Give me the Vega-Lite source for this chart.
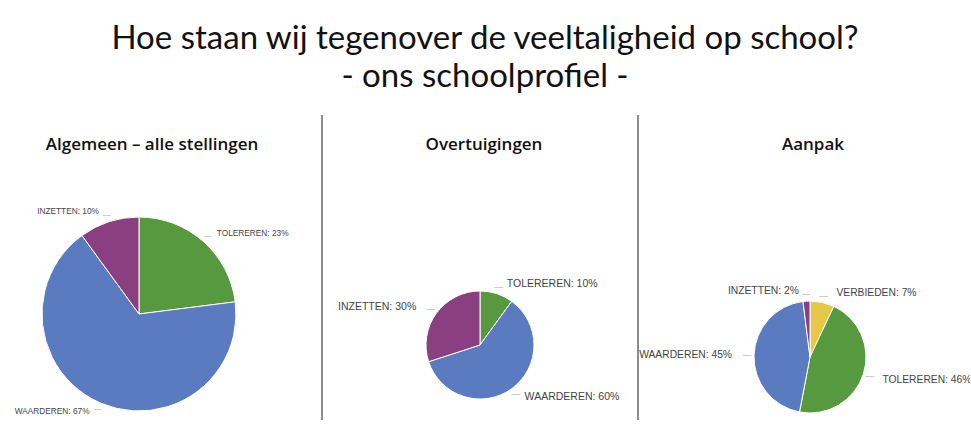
{
  "$schema": "https://vega.github.io/schema/vega-lite/v6.json",
  "background": "#ffffff",
  "padding": {"left": 10, "top": 23, "right": 0, "bottom": 0},
  "title": {
    "text": "Hoe staan wij tegenover de veeltaligheid op school?",
    "subtitle": "- ons schoolprofiel -",
    "font": "Lato", "fontSize": 33, "fontWeight": "normal", "color": "#111111",
    "subtitleFont": "Lato", "subtitleFontSize": 33, "subtitleColor": "#111111",
    "subtitlePadding": 5, "anchor": "middle", "offset": 20, "dx": -5
  },
  "spacing": 0,
  "config": {"view": {"stroke": null}},
  "hconcat": [
    {"spacing": 32, "vconcat": [
      {"width": 258, "height": 60,
       "data": {"values": [{"titel": "Algemeen – alle stellingen"}]},
       "mark": {"type": "text", "font": "Open Sans", "fontSize": 17, "fontWeight": 600, "color": "#111111", "baseline": "middle", "align": "center", "dx": 13},
       "encoding": {"text": {"field": "titel", "type": "nominal"}}},
      {
      "width": 258, "height": 200,
      "data": {"values": [
        {"category": "TOLEREREN", "value": 23, "nr": 1, "label": "TOLEREREN: 23%"},
        {"category": "WAARDEREN", "value": 67, "nr": 2, "label": "WAARDEREN: 67%"},
        {"category": "INZETTEN", "value": 10, "nr": 3, "label": "INZETTEN: 10%"}
      ]},
      "encoding": {
        "theta": {"field": "value", "type": "quantitative", "stack": true},
        "order": {"field": "nr", "type": "quantitative"}
      },
      "layer": [
        {"mark": {"type": "arc", "outerRadius": 97, "stroke": "#ffffff", "strokeWidth": 1},
         "encoding": {"color": {"field": "category", "type": "nominal", "legend": null,
           "scale": {"domain": ["TOLEREREN", "WAARDEREN", "INZETTEN", "VERBIEDEN"], "range": ["#56993f", "#5a7bbf", "#8a3f80", "#e6c847"]}}}},
        {"mark": {"type": "text", "radius": 104, "text": "—", "fontSize": 8, "color": "#aaaaaa", "baseline": "middle"},
         "encoding": {"detail": {"field": "category"}}},
        {"mark": {"type": "text", "radius": 107, "dx": 7, "align": "left", "baseline": "middle", "font": "Liberation Sans", "fontSize": 8.3, "color": "#444444"},
         "encoding": {"detail": {"field": "category"},
           "text": {"condition": {"test": "datum.category === 'TOLEREREN'", "field": "label", "type": "nominal"}, "value": ""}}},
        {"mark": {"type": "text", "radius": 107, "dx": -7, "align": "right", "baseline": "middle", "font": "Liberation Sans", "fontSize": 8.3, "color": "#444444"},
         "encoding": {"detail": {"field": "category"},
           "text": {"condition": {"test": "datum.category !== 'TOLEREREN'", "field": "label", "type": "nominal"}, "value": ""}}}
      ]
    }]},
    {
      "width": 33, "height": 305,
      "data": {"values": [{}]},
      "mark": {"type": "rule", "color": "#8c8c8c", "strokeWidth": 2},
      "encoding": {"x": {"datum": 1, "type": "quantitative", "scale": {"domain": [0, 1]}, "axis": null}}
    },
    {"spacing": 104, "vconcat": [
      {"width": 314, "height": 60,
       "data": {"values": [{"titel": "Overtuigingen"}]},
       "mark": {"type": "text", "font": "Open Sans", "fontSize": 17, "fontWeight": 600, "color": "#111111", "baseline": "middle", "align": "center", "dx": 4},
       "encoding": {"text": {"field": "titel", "type": "nominal"}}},
      {
      "width": 314, "height": 114,
      "data": {"values": [
        {"category": "TOLEREREN", "value": 10, "nr": 1, "label": "TOLEREREN: 10%"},
        {"category": "WAARDEREN", "value": 60, "nr": 2, "label": "WAARDEREN: 60%"},
        {"category": "INZETTEN", "value": 30, "nr": 3, "label": "INZETTEN: 30%"}
      ]},
      "encoding": {
        "theta": {"field": "value", "type": "quantitative", "stack": true},
        "order": {"field": "nr", "type": "quantitative"}
      },
      "layer": [
        {"mark": {"type": "arc", "outerRadius": 54, "stroke": "#ffffff", "strokeWidth": 1},
         "encoding": {"color": {"field": "category", "type": "nominal", "legend": null,
           "scale": {"domain": ["TOLEREREN", "WAARDEREN", "INZETTEN", "VERBIEDEN"], "range": ["#56993f", "#5a7bbf", "#8a3f80", "#e6c847"]}}}},
        {"mark": {"type": "text", "radius": 61, "text": "—", "fontSize": 9, "color": "#aaaaaa", "baseline": "middle"},
         "encoding": {"detail": {"field": "category"}}},
        {"mark": {"type": "text", "radius": 64, "dx": 7, "align": "left", "baseline": "middle", "font": "Liberation Sans", "fontSize": 10.5, "color": "#444444"},
         "encoding": {"detail": {"field": "category"},
           "text": {"condition": {"test": "datum.category !== 'INZETTEN'", "field": "label", "type": "nominal"}, "value": ""}}},
        {"mark": {"type": "text", "radius": 64, "dx": -12, "align": "right", "baseline": "middle", "font": "Liberation Sans", "fontSize": 10.5, "color": "#444444"},
         "encoding": {"detail": {"field": "category"},
           "text": {"condition": {"test": "datum.category === 'INZETTEN'", "field": "label", "type": "nominal"}, "value": ""}}}
      ]
    }]},
    {
      "width": 1, "height": 305,
      "data": {"values": [{}]},
      "mark": {"type": "rule", "color": "#8c8c8c", "strokeWidth": 2},
      "encoding": {"x": {"datum": 1, "type": "quantitative", "scale": {"domain": [0, 1]}, "axis": null}}
    },
    {"spacing": 111, "vconcat": [
      {"width": 320, "height": 60,
       "data": {"values": [{"titel": "Aanpak"}]},
       "mark": {"type": "text", "font": "Open Sans", "fontSize": 17, "fontWeight": 600, "color": "#111111", "baseline": "middle", "align": "center", "dx": 3},
       "encoding": {"text": {"field": "titel", "type": "nominal"}}},
      {
      "width": 320, "height": 118,
      "data": {"values": [
        {"category": "VERBIEDEN", "value": 7, "nr": 1, "label": "VERBIEDEN: 7%"},
        {"category": "TOLEREREN", "value": 46, "nr": 2, "label": "TOLEREREN: 46%"},
        {"category": "WAARDEREN", "value": 45, "nr": 3, "label": "WAARDEREN: 45%"},
        {"category": "INZETTEN", "value": 2, "nr": 4, "label": "INZETTEN: 2%"}
      ]},
      "encoding": {
        "theta": {"field": "value", "type": "quantitative", "stack": true},
        "order": {"field": "nr", "type": "quantitative"}
      },
      "layer": [
        {"mark": {"type": "arc", "outerRadius": 56, "stroke": "#ffffff", "strokeWidth": 1},
         "encoding": {"color": {"field": "category", "type": "nominal", "legend": null,
           "scale": {"domain": ["TOLEREREN", "WAARDEREN", "INZETTEN", "VERBIEDEN"], "range": ["#56993f", "#5a7bbf", "#8a3f80", "#e6c847"]}}}},
        {"mark": {"type": "text", "radius": 63, "text": "—", "fontSize": 9, "color": "#aaaaaa", "baseline": "middle"},
         "encoding": {"detail": {"field": "category"}}},
        {"mark": {"type": "text", "radius": 66, "dx": 12, "align": "left", "baseline": "middle", "font": "Liberation Sans", "fontSize": 10.3, "color": "#444444"},
         "encoding": {"detail": {"field": "category"},
           "text": {"condition": {"test": "datum.category === 'VERBIEDEN'", "field": "label", "type": "nominal"}, "value": ""}}},
        {"mark": {"type": "text", "radius": 74, "dx": 2, "align": "left", "baseline": "middle", "font": "Liberation Sans", "fontSize": 10.3, "color": "#444444", "clip": true},
         "encoding": {"detail": {"field": "category"},
           "text": {"condition": {"test": "datum.category === 'TOLEREREN'", "field": "label", "type": "nominal"}, "value": ""}}},
        {"mark": {"type": "text", "radius": 66, "dx": -12, "align": "right", "baseline": "middle", "font": "Liberation Sans", "fontSize": 10.3, "color": "#444444"},
         "encoding": {"detail": {"field": "category"},
           "text": {"condition": {"test": "datum.category === 'WAARDEREN'", "field": "label", "type": "nominal"}, "value": ""}}},
        {"mark": {"type": "text", "radius": 66, "dx": -7, "align": "right", "baseline": "middle", "font": "Liberation Sans", "fontSize": 10.3, "color": "#444444"},
         "encoding": {"detail": {"field": "category"},
           "text": {"condition": {"test": "datum.category === 'INZETTEN'", "field": "label", "type": "nominal"}, "value": ""}}}
      ]
    }]}
  ]
}
